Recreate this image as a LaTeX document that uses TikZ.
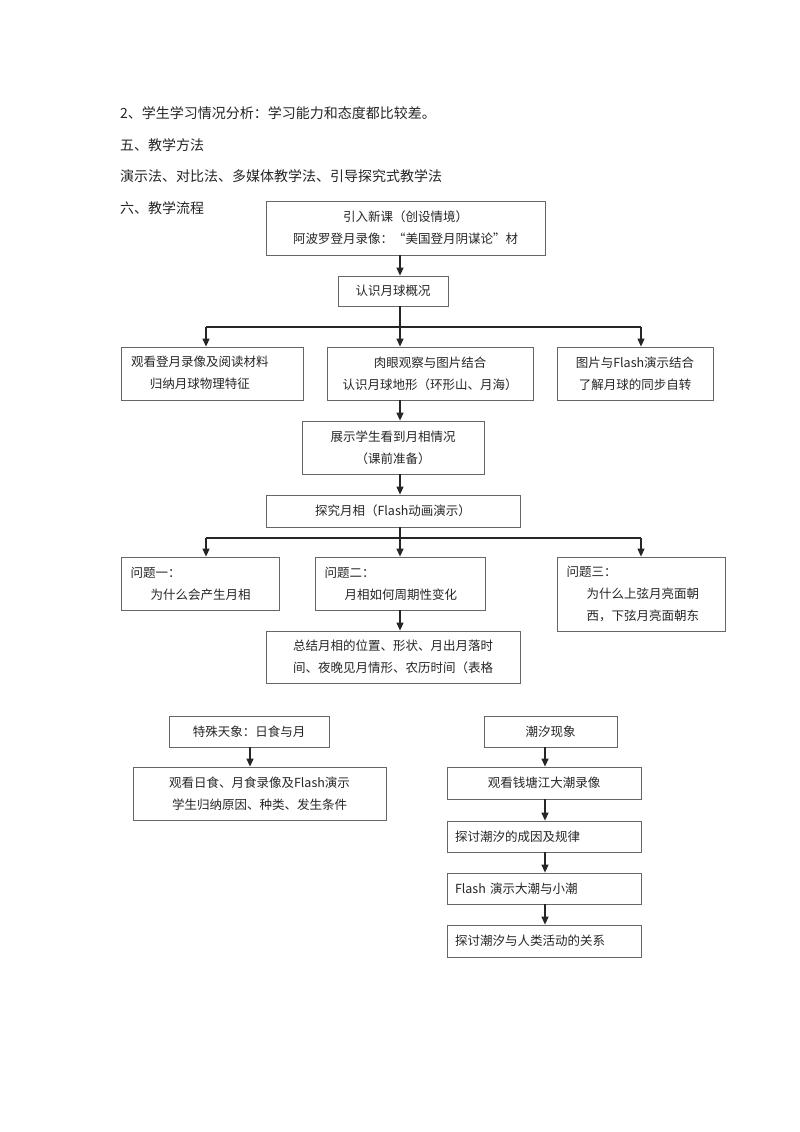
\documentclass[tikz,border=0pt]{standalone}
\usepackage{fontspec}
\setmainfont{Noto Sans CJK SC}
\usetikzlibrary{arrows.meta,calc}
\tikzset{
  box/.style={draw=black!60, line width=0.8pt, inner sep=0pt, align=center,
    font=\fontsize{12.5}{22}\selectfont, text=black!85},
  lbox/.style={box, align=left},
  arr/.style={line width=1.2pt, draw=black!85, -{Triangle[length=8pt,width=7pt]}},
  ln/.style={line width=1.2pt, draw=black!85},
  body/.style={anchor=base west, inner sep=0pt, font=\fontsize{14}{16}\selectfont, text=black!85}
}
\newcommand{\placebox}[6][box]{%
  \node[#1, minimum width={(#4-#3)*1pt}, minimum height={(#6-#5)*1pt}] (#2) at ({(#3+#4)/2},{(#5+#6)/2})}
\begin{document}
\begin{tikzpicture}[x=1pt,y=-1pt]
\useasboundingbox[fill=white] (0,0) rectangle (800,1132);

\node[body] (t1) at (120,118) {2、学生学习情况分析：学习能力和态度都比较差。};
\node[body] (t2) at (120,150) {五、教学方法};
\node[body] (t3) at (120,181) {演示法、对比法、多媒体教学法、引导探究式教学法};
\node[body] (t4) at (120,213) {六、教学流程};

\placebox{n1}{266}{545}{201}{255} {引入新课（创设情境）\\阿波罗登月录像：“美国登月阴谋论”材};
\placebox{n2}{338}{448}{276}{306} {认识月球概况};
\placebox[lbox, text width=162pt]{n3a}{121}{303}{347}{400} {\setlength{\tabcolsep}{0pt}\renewcommand{\arraystretch}{1}\begin{tabular}{c}观看登月录像及阅读材料\\归纳月球物理特征\end{tabular}};
\placebox{n3b}{327}{533}{347}{400} {肉眼观察与图片结合\\认识月球地形（环形山、月海）};
\placebox{n3c}{557}{713}{347}{400} {图片与Flash演示结合\\了解月球的同步自转};
\placebox{n4}{302}{484}{421}{474} {展示学生看到月相情况\\（课前准备）};
\placebox{n5}{266}{520}{495}{527} {探究月相（Flash动画演示）};
\placebox[lbox, text width=139pt]{n6a}{121}{279}{557}{610} {问题一：\\\hspace*{1.6em}为什么会产生月相};
\placebox[lbox, text width=151pt]{n6b}{315}{485}{557}{610} {问题二：\\\hspace*{1.6em}月相如何周期性变化};
\placebox[lbox, text width=149pt]{n6c}{557}{725}{557}{631} {问题三：\\\hspace*{1.6em}为什么上弦月亮面朝\\\hspace*{1.6em}西，下弦月亮面朝东};
\placebox{n7}{266}{520}{631}{683} {总结月相的位置、形状、月出月落时\\间、夜晚见月情形、农历时间（表格};

\placebox{n8}{169}{329}{716}{747} {特殊天象：日食与月};
\placebox{n9}{133}{386}{767}{820} {观看日食、月食录像及Flash演示\\学生归纳原因、种类、发生条件};

\placebox{n10}{484}{617}{716}{747} {潮汐现象};
\placebox{n11}{447}{641}{767}{799} {观看钱塘江大潮录像};
\placebox[lbox, text width=178pt]{n12}{447}{641}{821}{852} {探讨潮汐的成因及规律};
\placebox[lbox, text width=178pt]{n13}{447}{641}{873}{904} {Flash 演示大潮与小潮};
\placebox[lbox, text width=178pt]{n14}{447}{641}{925}{957} {探讨潮汐与人类活动的关系};

% guide coordinates
\coordinate (mx) at (400,0);
\coordinate (lx) at (206,0);
\coordinate (rx) at (641,0);
\coordinate (b1) at (400,327);
\coordinate (b2) at (400,538);
\coordinate (qx) at (250,0);
\coordinate (tx) at (545,0);

\draw[arr] (mx |- n1.south) -- (mx |- n2.north);
\draw[ln] (mx |- n2.south) -- (b1);
\draw[ln] (lx |- b1) -- (rx |- b1);
\draw[arr] (lx |- b1) -- (lx |- n3a.north);
\draw[arr] (b1) -- (mx |- n3b.north);
\draw[arr] (rx |- b1) -- (rx |- n3c.north);
\draw[arr] (mx |- n3b.south) -- (mx |- n4.north);
\draw[arr] (mx |- n4.south) -- (mx |- n5.north);
\draw[ln] (mx |- n5.south) -- (b2);
\draw[ln] (lx |- b2) -- (rx |- b2);
\draw[arr] (lx |- b2) -- (lx |- n6a.north);
\draw[arr] (b2) -- (mx |- n6b.north);
\draw[arr] (rx |- b2) -- (rx |- n6c.north);
\draw[arr] (mx |- n6b.south) -- (mx |- n7.north);

\draw[arr] (qx |- n8.south) -- (qx |- n9.north);
\draw[arr] (tx |- n10.south) -- (tx |- n11.north);
\draw[arr] (tx |- n11.south) -- (tx |- n12.north);
\draw[arr] (tx |- n12.south) -- (tx |- n13.north);
\draw[arr] (tx |- n13.south) -- (tx |- n14.north);
\end{tikzpicture}
\end{document}
